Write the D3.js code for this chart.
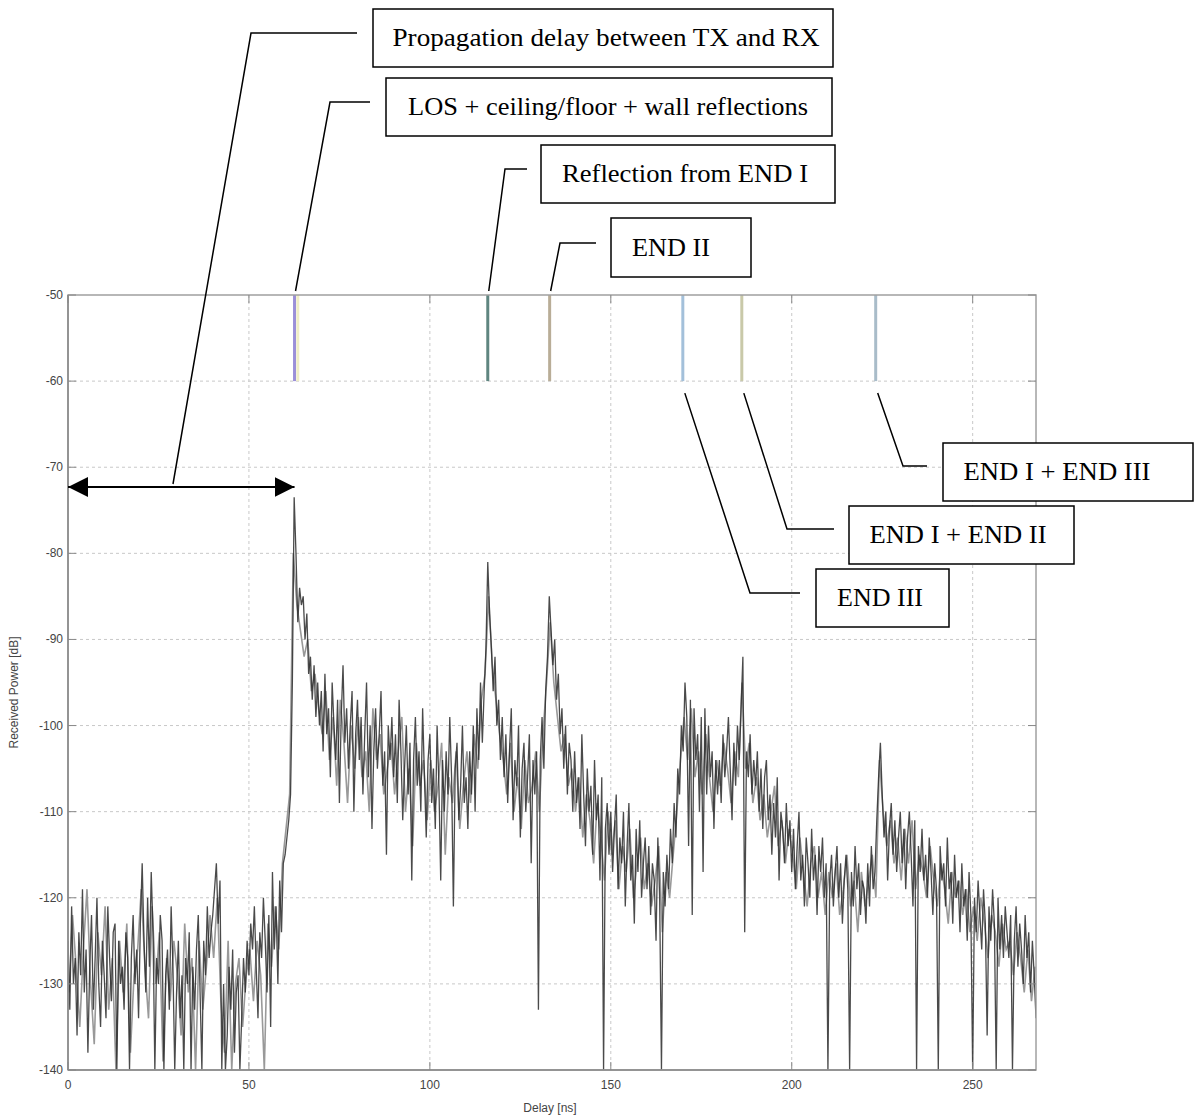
<!DOCTYPE html>
<html lang="en">
<title>Received power vs delay</title>
<meta charset="UTF-8">
<script src="https://d3js.org/d3.v7.min.js"></script>
<style>
body {margin:0; background:#fff;}
.tick-label {font-family: "Liberation Sans", Arial, sans-serif; font-size:12px; fill:#444;}
.axis-title {font-family: "Liberation Sans", Arial, sans-serif; font-size:12px; fill:#444;}
.note {font-family: "Liberation Serif", "Times New Roman", serif; font-size:25px; fill:#000;}
.grid line {stroke:#c8c8c8; stroke-width:1; stroke-dasharray:3,3;}
</style>
<body>
<svg id="chart" width="1202" height="1118"></svg>
<script>
// measured trace, 0.5 ns step starting at 0 ns (dB)
var traceA = [
  -125,-133,-121,-130,-127,-136,-124,-129,-119,-131,-126,-138,-128,-122,-133,-127,-120,-130,-135,-125,
  -129,-134,-121,-127,-132,-124,-123,-140,-125,-130,-128,-133,-124,-127,-140,-127,-122,-130,-126,-134,
  -123,-116,-125,-131,-120,-128,-117,-124,-140,-127,-130,-122,-125,-140,-129,-126,-133,-121,-128,-140,
  -131,-125,-134,-129,-140,-127,-130,-124,-140,-128,-133,-126,-122,-131,-140,-125,-129,-121,-127,-124,
  -122,-119,-116,-123,-118,-140,-130,-140,-136,-128,-133,-126,-138,-131,-129,-140,-134,-127,-131,-125,
  -129,-123,-126,-121,-128,-134,-124,-127,-120,-125,-131,-122,-135,-117,-126,-121,-130,-118,-124,-116,
  -115,-113,-111,-108,-95,-73.5,-80,-88,-84,-86,-85,-90,-87,-94,-92,-97,-93,-99,-95,-100,
  -96,-103,-94,-101,-98,-106,-95,-100,-104,-97,-109,-99,-93,-102,-98,-105,-100,-96,-110,-101,
  -97,-104,-99,-108,-101,-95,-106,-100,-112,-103,-98,-105,-101,-96,-107,-103,-115,-100,-104,-99,
  -106,-101,-109,-97,-103,-111,-105,-100,-108,-102,-118,-104,-99,-107,-103,-110,-98,-106,-113,-104,
  -101,-109,-105,-112,-100,-107,-118,-104,-110,-103,-108,-99,-106,-121,-105,-102,-111,-107,-100,-109,
  -106,-112,-103,-108,-100,-110,-98,-104,-95,-102,-96,-91,-81,-87,-91,-96,-92,-100,-97,-104,
  -99,-106,-101,-109,-103,-98,-111,-104,-107,-100,-113,-105,-102,-110,-106,-101,-116,-104,-108,-103,
  -133,-104,-99,-105,-96,-92,-85,-89,-93,-90,-97,-94,-101,-98,-105,-100,-108,-102,-104,-110,
  -103,-109,-106,-112,-101,-108,-114,-105,-110,-107,-115,-104,-111,-108,-118,-106,-140,-112,-109,-115,
  -110,-117,-112,-108,-119,-113,-116,-110,-121,-114,-109,-118,-115,-123,-112,-117,-111,-120,-116,-113,
  -119,-114,-122,-116,-118,-125,-113,-120,-140,-117,-121,-115,-119,-112,-116,-109,-113,-105,-108,-100,
  -103,-95,-99,-114,-97,-122,-98,-104,-101,-110,-99,-117,-98,-108,-100,-106,-103,-112,-104,-108,
  -104,-109,-101,-106,-103,-99,-105,-111,-102,-107,-100,-104,-98,-92,-124,-103,-106,-101,-108,-104,
  -107,-103,-110,-105,-112,-106,-104,-111,-108,-115,-109,-113,-106,-118,-110,-112,-116,-109,-114,-111,
  -117,-112,-119,-114,-110,-118,-115,-121,-113,-116,-120,-112,-118,-115,-122,-114,-117,-113,-120,-116,
  -140,-118,-115,-121,-117,-114,-120,-116,-123,-118,-115,-119,-140,-117,-121,-114,-119,-116,-122,-118,
  -119,-123,-116,-121,-114,-119,-117,-111,-106,-102,-108,-113,-110,-118,-112,-109,-115,-111,-117,-113,
  -110,-116,-112,-119,-113,-110,-115,-121,-111,-140,-114,-117,-112,-118,-115,-120,-113,-117,-122,-116,
  -119,-140,-114,-118,-116,-121,-113,-119,-117,-123,-115,-120,-118,-124,-116,-121,-119,-125,-117,-122,
  -140,-120,-124,-118,-122,-126,-119,-123,-136,-121,-125,-119,-123,-140,-120,-126,-122,-127,-121,-124,
  -127,-122,-140,-125,-121,-128,-123,-126,-130,-122,-127,-124,-131,-125,-129,-134,-127
];
// second (lighter) trace, 1 ns step starting at 0.25 ns (dB)
var traceB = [
  -131,-122,-128,-135,-126,-119,-130,-137,-124,-129,
  -121,-133,-127,-140,-125,-131,-123,-138,-129,-126,
  -119,-128,-134,-121,-130,-124,-139,-127,-132,-125,
  -129,-136,-123,-131,-127,-140,-125,-133,-128,-122,
  -127,-120,-132,-138,-125,-140,-130,-127,-135,-129,
  -126,-132,-125,-129,-140,-123,-128,-121,-126,-116,
  -112,-108,-80,-86,-89,-92,-90,-96,-94,-98,
  -101,-96,-104,-99,-107,-97,-102,-109,-100,-105,
  -99,-106,-103,-110,-98,-104,-101,-108,-105,-102,
  -108,-103,-99,-110,-105,-114,-102,-107,-104,-111,
  -104,-110,-107,-102,-115,-106,-109,-103,-112,-107,
  -103,-109,-101,-105,-97,-94,-85,-93,-97,-101,
  -104,-108,-102,-110,-106,-112,-104,-109,-107,-103,
  -110,-101,-95,-88,-95,-99,-103,-101,-107,-105,
  -110,-106,-113,-108,-111,-116,-109,-113,-118,-110,
  -115,-111,-119,-114,-117,-112,-120,-116,-113,-119,
  -116,-121,-118,-114,-124,-117,-120,-115,-110,-104,
  -99,-104,-98,-106,-103,-108,-101,-106,-110,-104,
  -107,-102,-105,-109,-103,-106,-95,-105,-102,-109,
  -106,-111,-108,-113,-110,-107,-114,-111,-116,-112,
  -115,-119,-113,-117,-121,-116,-114,-120,-117,-122,
  -117,-120,-116,-122,-119,-115,-121,-118,-124,-117,
  -121,-118,-115,-120,-104,-110,-114,-111,-116,-113,
  -118,-112,-116,-111,-119,-115,-117,-120,-114,-118,
  -121,-116,-119,-123,-117,-120,-118,-122,-119,-124,
  -121,-125,-120,-123,-127,-122,-124,-128,-123,-126,
  -125,-129,-124,-127,-131,-126,-132,-128
];

// ray-tracing arrivals shown as short bars between -50 and -60 dB
var markerDelays = [62.6, 63.5, 116.0, 133.1, 169.9, 186.2, 223.2];
var markerColors = ["#9b8fd8", "#efedc6", "#5f8580", "#b9ad97", "#a3c0da", "#c9c9a9", "#a9bcc9"];

var xTicks = [0, 50, 100, 150, 200, 250];
var yTicks = [-50, -60, -70, -80, -90, -100, -110, -120, -130, -140];

var noteTexts = ["Propagation delay between TX and RX", "LOS + ceiling/floor + wall reflections",
  "Reflection from END I", "END II", "END I + END III", "END I + END II", "END III"];
// which marker each note points to (-1 = the delay arrow)
var noteTargets = [-1, 0, 2, 3, 6, 5, 4];

var margin = {top: 295, left: 68},
    width = 968, height = 775;

var svg = d3.select("#chart");
var g = svg.append("g").attr("transform", "translate(" + margin.left + "," + margin.top + ")");

var x = d3.scaleLinear().domain([0, 267.5]).range([0, width]);
var y = d3.scaleLinear().domain([-140, -50]).range([height, 0]);

// grid
g.append("g").attr("class", "grid")
  .selectAll("line.v").data(xTicks.slice(1)).enter().append("line")
    .attr("x1", d => x(d)).attr("x2", d => x(d))
    .attr("y1", 0).attr("y2", height);
g.append("g").attr("class", "grid")
  .selectAll("line.h").data(yTicks.slice(1, -1)).enter().append("line")
    .attr("x1", 0).attr("x2", width)
    .attr("y1", d => y(d)).attr("y2", d => y(d));

g.append("clipPath").attr("id", "plotclip")
  .append("rect").attr("width", width).attr("height", height + 1);

var lineA = d3.line().x((d, i) => x(i * 0.5)).y(d => y(d));
var lineB = d3.line().x((d, i) => x(0.25 + i)).y(d => y(d));

var plot = g.append("g").attr("clip-path", "url(#plotclip)");
plot.append("path").datum(traceB)
    .attr("d", lineB)
    .style("fill", "none").style("stroke", "#999").style("stroke-width", 1.6);
plot.append("path").datum(traceA)
    .attr("d", lineA)
    .style("fill", "none").style("stroke", "#2a2a2a").style("stroke-width", 1.3).style("opacity", 0.85);

plot.selectAll("line.marker").data(markerDelays).enter().append("line")
    .attr("class", "marker")
    .attr("x1", d => x(d)).attr("x2", d => x(d))
    .attr("y1", y(-50)).attr("y2", y(-60))
    .style("stroke", (d, i) => markerColors[i])
    .style("stroke-width", 3);

// frame and inner ticks
g.append("rect").attr("width", width).attr("height", height)
  .style("fill", "none").style("stroke", "#a0a0a0").style("stroke-width", 1.5);
g.append("line").attr("x1", 0).attr("x2", 0).attr("y1", 0).attr("y2", height)
  .style("stroke", "#888").style("stroke-width", 1.5);
g.append("line").attr("x1", 0).attr("x2", width).attr("y1", height).attr("y2", height)
  .style("stroke", "#888").style("stroke-width", 1.5);

var tickG = g.append("g").style("stroke", "#888").style("stroke-width", 1);
xTicks.forEach(t => {
  tickG.append("line").attr("x1", x(t)).attr("x2", x(t)).attr("y1", height).attr("y2", height - 8);
  tickG.append("line").attr("x1", x(t)).attr("x2", x(t)).attr("y1", 0).attr("y2", 8);
});
yTicks.forEach(t => {
  tickG.append("line").attr("x1", 0).attr("x2", 8).attr("y1", y(t)).attr("y2", y(t));
  tickG.append("line").attr("x1", width).attr("x2", width - 8).attr("y1", y(t)).attr("y2", y(t));
});

g.selectAll("text.xl").data(xTicks).enter().append("text")
    .attr("class", "tick-label")
    .attr("x", d => x(d)).attr("y", height + 19)
    .attr("text-anchor", "middle")
    .text(d => d);
g.selectAll("text.yl").data(yTicks).enter().append("text")
    .attr("class", "tick-label")
    .attr("x", -5).attr("y", d => y(d) + 4)
    .attr("text-anchor", "end")
    .text(d => d);

g.append("text").attr("class", "axis-title")
    .attr("x", width / 2 - 2).attr("y", height + 42)
    .attr("text-anchor", "middle").text("Delay [ns]");
g.append("text").attr("class", "axis-title")
    .attr("transform", "translate(-50," + (y(-95) + 10) + ") rotate(-90)")
    .attr("text-anchor", "middle").text("Received Power [dB]");

// propagation delay arrow
var defs = svg.append("defs");
defs.append("marker").attr("id", "head").attr("viewBox", "0 0 20 20")
    .attr("refX", 20).attr("refY", 10).attr("markerWidth", 20).attr("markerHeight", 20)
    .attr("markerUnits", "userSpaceOnUse").attr("orient", "auto-start-reverse")
  .append("path").attr("d", "M0,0 L20,10 L0,20 Z").style("fill", "#000");

var arrowY = 487;
svg.append("line")
    .attr("x1", margin.left + x(0)).attr("x2", margin.left + x(62.6))
    .attr("y1", arrowY).attr("y2", arrowY)
    .style("stroke", "#000").style("stroke-width", 2)
    .attr("marker-start", "url(#head)").attr("marker-end", "url(#head)");

// annotation boxes (pixel layout); tw = width of the text line
var boxes = [
  {x: 373, y: 9, w: 460, h: 58, tx: 606, tw: 427, elbow: [357, 33, 251, 33], end: [173, 484]},
  {x: 386, y: 78, w: 446, h: 58, tx: 608, tw: 400, elbow: [370, 102, 330, 102], end: null},
  {x: 541, y: 145, w: 294, h: 58, tx: 685, tw: 246, elbow: [527, 169, 505, 169], end: null},
  {x: 611, y: 218, w: 140, h: 59, tx: 671, tw: 78, elbow: [596, 243, 560, 243], end: null},
  {x: 943, y: 443, w: 250, h: 58, tx: 1057, tw: 187, elbow: [927, 466, 903, 466], end: null},
  {x: 849, y: 506, w: 225, h: 58, tx: 958, tw: 177, elbow: [834, 529, 787, 529], end: null},
  {x: 816, y: 569, w: 133, h: 58, tx: 880, tw: 86, elbow: [800, 593, 750, 593], end: null}
];

var notes = svg.append("g");
boxes.forEach((b, i) => {
  notes.append("rect").attr("x", b.x).attr("y", b.y).attr("width", b.w).attr("height", b.h)
    .style("fill", "#fff").style("stroke", "#000").style("stroke-width", 1.5);
  notes.append("text").attr("class", "note")
    .attr("x", b.tx).attr("y", b.y + b.h / 2 + 8)
    .attr("text-anchor", "middle")
    .attr("textLength", b.tw).attr("lengthAdjust", "spacingAndGlyphs")
    .text(noteTexts[i]);

  var end = b.end;
  if (!end) {
    var mx = margin.left + x(markerDelays[noteTargets[i]]);
    // upper notes hit the top of the bar, lower ones start below it
    end = b.y < 295 ? [mx + 1, margin.top - 4] : [mx + 2, margin.top + y(-60) + 12];
  }
  notes.append("polyline")
    .attr("points", [[b.elbow[0], b.elbow[1]], [b.elbow[2], b.elbow[3]], end].join(" "))
    .style("fill", "none").style("stroke", "#000").style("stroke-width", 1.5);
});
</script>
</body>
</html>
